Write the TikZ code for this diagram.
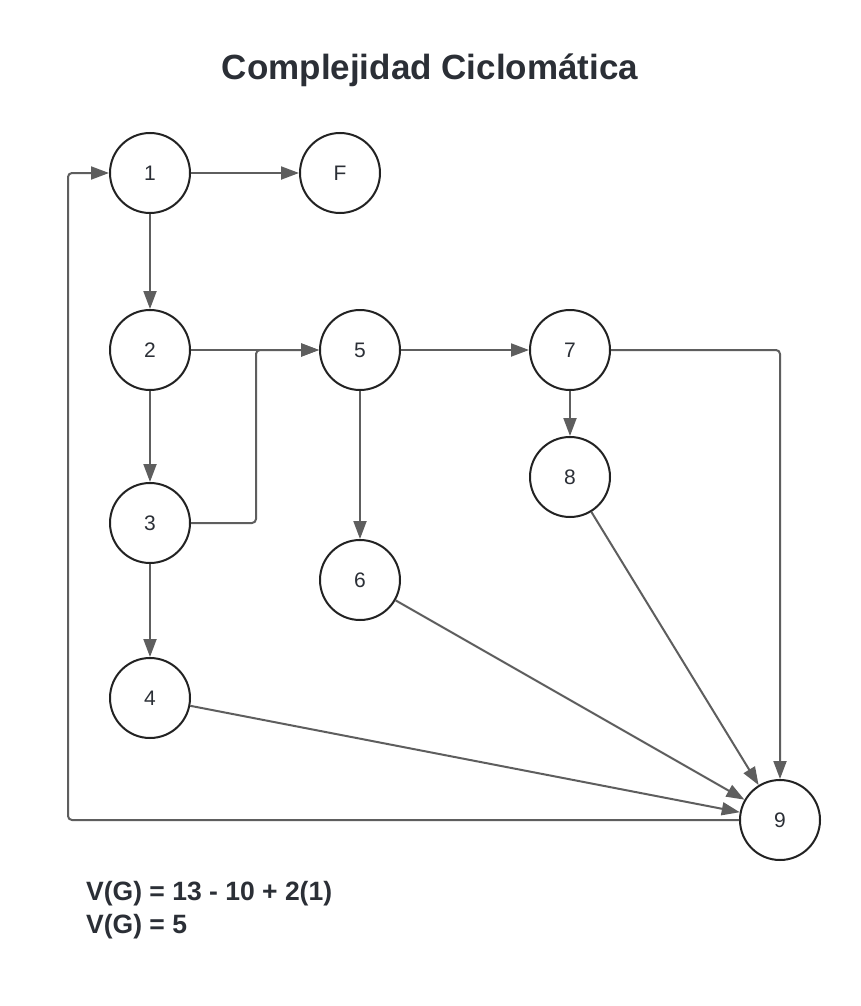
\documentclass[tikz,border=0pt]{standalone}
\usepackage{fontspec}
\setmainfont{Liberation Sans}
\usetikzlibrary{arrows.meta}
\definecolor{edgegray}{HTML}{5E5E5E}
\definecolor{ringdark}{HTML}{222222}
\definecolor{txt}{HTML}{2B2F36}
\tikzset{
  vert/.style={circle, draw=ringdark, line width=2pt, minimum size=80pt, inner sep=0pt, fill=white, text=txt, font=\fontsize{21}{24}\selectfont},
  edge/.style={draw=edgegray, line width=2pt, rounded corners=4pt, -{Triangle[length=18pt,width=13pt]}},
  title/.style={font=\bfseries\fontsize{35}{40}\selectfont, text=txt},
  formula/.style={font=\bfseries\fontsize{26.5}{30}\selectfont, text=txt, anchor=base west, inner sep=0pt}
}
\begin{document}
\begin{tikzpicture}[x=1pt,y=-1pt]
\useasboundingbox[fill=white] (0,0) rectangle (860,1006);
\node[title, anchor=base] (t) at (430,80) {Complejidad Ciclomática};

\node[vert] (n1) at (150,173) {1};
\node[vert] (nF) at (340,173) {F};
\node[vert] (n2) at (150,350) {2};
\node[vert] (n5) at (360,350) {5};
\node[vert] (n7) at (570,350) {7};
\node[vert] (n3) at (150,523) {3};
\node[vert] (n8) at (570,477) {8};
\node[vert] (n6) at (360,580) {6};
\node[vert] (n4) at (150,698) {4};
\node[vert] (n9) at (780,820) {9};

\coordinate (j35) at (256,350);
\coordinate (loop) at (68,820);

\draw[edge] (n1) -- (nF);
\draw[edge] (n1) -- (n2);
\draw[edge] (n2) -- (n5);
\draw[edge] (n2) -- (n3);
\draw[edge] (n3.east) -| (j35) -- (n5.west);
\draw[edge] (n3) -- (n4);
\draw[edge] (n5) -- (n7);
\draw[edge] (n5) -- (n6);
\draw[edge] (n7) -- (n8);
\draw[edge] (n7.east) -| (n9.north);
\draw[edge] (n8) -- (n9);
\draw[edge] (n6) -- (n9);
\draw[edge] (n4) -- (n9);
\draw[edge] (n9.west) -- (loop) |- (n1.west);

\node[formula] (f1) at (86,900) {V(G) = 13 - 10 + 2(1)};
\node[formula] (f2) at (86,933) {V(G) = 5};
\end{tikzpicture}
\end{document}
